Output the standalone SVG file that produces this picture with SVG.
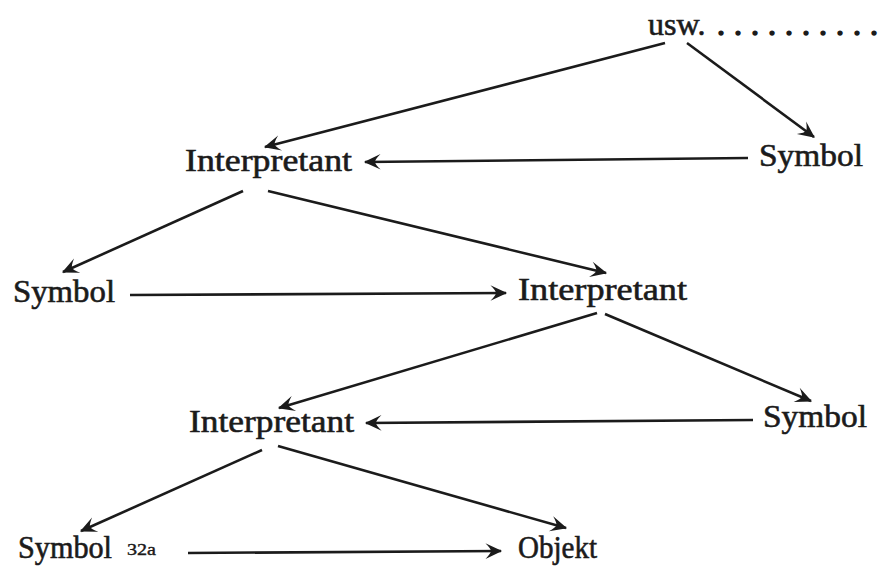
<svg xmlns="http://www.w3.org/2000/svg" width="878" height="567" viewBox="0 0 878 567">
<defs>
<style>
.t{font-family:"Liberation Serif","Times New Roman",serif;font-size:32px;fill:#1b1b1b;stroke:#1b1b1b;stroke-width:0.6}
.s{font-family:"Liberation Serif","Times New Roman",serif;font-size:16px;fill:#1b1b1b;stroke:#1b1b1b;stroke-width:0.4}
.d{stroke-width:1.6}
.c line{stroke:#1b1b1b;stroke-width:2.6;fill:none;marker-end:url(#ah)}
</style>
<marker id="ah" markerUnits="userSpaceOnUse" markerWidth="20" markerHeight="20" viewBox="-16 -8 18 16" refX="0" refY="0" orient="auto">
<path d="M1,0 L-14,-7 Q-9,-2 -9,0 Q-9,2 -14,7 Z" fill="#1b1b1b"/>
</marker>
</defs>
<rect width="878" height="567" fill="#ffffff"/>
<g id="connectors" class="c">
<line x1="665" y1="43" x2="265" y2="147"/>
<line x1="687" y1="43" x2="814" y2="137"/>
<line x1="748" y1="158" x2="365" y2="162"/>
<line x1="243" y1="191" x2="63" y2="272"/>
<line x1="268" y1="191" x2="606" y2="273"/>
<line x1="130" y1="295" x2="506" y2="293"/>
<line x1="597" y1="313" x2="279" y2="408"/>
<line x1="605" y1="314" x2="811" y2="401"/>
<line x1="753" y1="420" x2="366" y2="423"/>
<line x1="262" y1="450" x2="81" y2="531"/>
<line x1="278" y1="446" x2="566" y2="528"/>
<line x1="188" y1="553" x2="501" y2="551"/>
</g>
<g id="usw"><text class="t" x="648" y="35">usw.<tspan class="d" x="717 734 751 768 785 802 819 836 853 870">..........</tspan></text></g>
<g id="interpretant1"><text class="t" x="185" y="171" textLength="167" lengthAdjust="spacingAndGlyphs">Interpretant</text></g>
<g id="symbol1"><text class="t" x="759" y="166" textLength="104" lengthAdjust="spacingAndGlyphs">Symbol</text></g>
<g id="symbol2"><text class="t" x="13" y="302" textLength="102" lengthAdjust="spacingAndGlyphs">Symbol</text></g>
<g id="interpretant2"><text class="t" x="518" y="300" textLength="169" lengthAdjust="spacingAndGlyphs">Interpretant</text></g>
<g id="interpretant3"><text class="t" x="189" y="432" textLength="165" lengthAdjust="spacingAndGlyphs">Interpretant</text></g>
<g id="symbol3"><text class="t" x="763" y="427" textLength="104" lengthAdjust="spacingAndGlyphs">Symbol</text></g>
<g id="symbol4"><text class="t" x="18" y="558" textLength="94" lengthAdjust="spacingAndGlyphs">Symbol</text><text class="s" x="127" y="555" textLength="29" lengthAdjust="spacingAndGlyphs">32a</text></g>
<g id="objekt"><text class="t" x="518" y="558" textLength="79" lengthAdjust="spacingAndGlyphs">Objekt</text></g>
</svg>
